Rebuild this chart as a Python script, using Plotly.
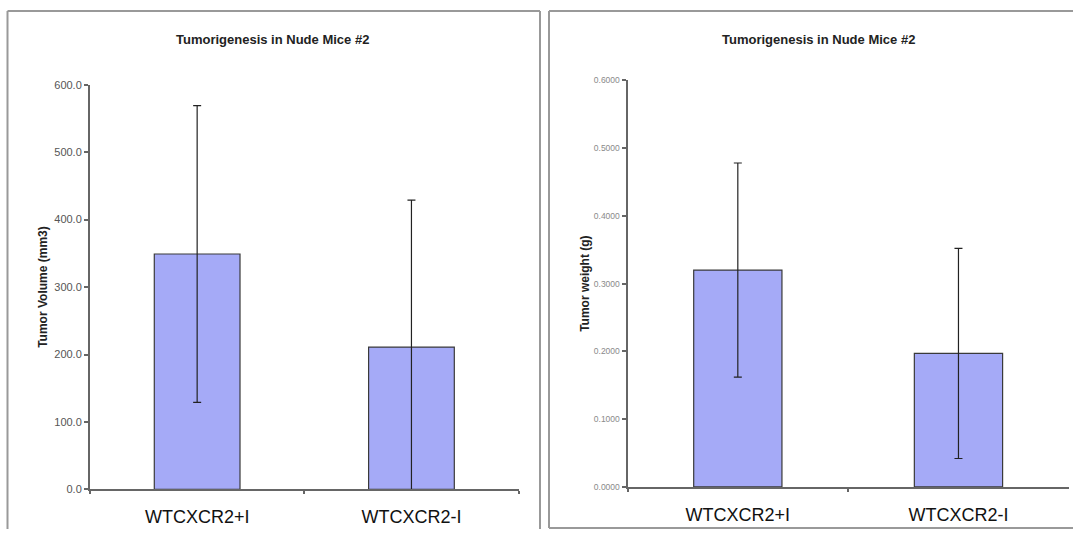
import plotly.graph_objects as go
from plotly.subplots import make_subplots

categories = ["WTCXCR2+I", "WTCXCR2-I"]
volume_mean = [349.0, 211.0]
volume_err = [220.0, 218.0]
weight_mean = [0.320, 0.197]
weight_err = [0.158, 0.155]
volume_ticks = [0, 100, 200, 300, 400, 500, 600]
weight_ticks = [0.0, 0.1, 0.2, 0.3, 0.4, 0.5, 0.6]
chart_title = "Tumorigenesis in Nude Mice #2"

W, H = 1073, 535
def px(x): return x / W
def py(y): return 1 - y / H

BAR = "#a5aaf7"
FONT = "Liberation Sans, Arial, sans-serif"

fig = make_subplots(rows=1, cols=2)

for col, vals, errs in ((1, volume_mean, volume_err), (2, weight_mean, weight_err)):
    fig.add_trace(go.Bar(x=categories, y=vals, width=0.4,
                         marker=dict(color=BAR, line=dict(color="#3a3a3a", width=1.2)),
                         error_y=dict(type="data", array=errs, color="#222222",
                                      thickness=1.2, width=4),
                         showlegend=False), row=1, col=col)

xcommon = dict(showline=True, linecolor="#666666", linewidth=2, ticks="outside",
               tickson="boundaries", ticklen=3, tickcolor="#666666", tickwidth=1.5,
               tickfont=dict(family=FONT, size=18, color="#111111"),
               showgrid=False, zeroline=False, ticklabelstandoff=10)
fig.update_xaxes(domain=[px(90), px(518.6)], **xcommon, row=1, col=1)
fig.update_xaxes(domain=[px(627.5), px(1068.8)], **xcommon, row=1, col=2)

ycommon = dict(showline=True, linecolor="#666666", linewidth=2, ticks="outside",
               ticklen=4, tickcolor="#666666", tickwidth=1.5, showgrid=False,
               zeroline=False)
fig.update_yaxes(domain=[py(494.5), py(80.5)], range=[0, 600], tickvals=volume_ticks,
                 ticktext=[f"{v:.1f}" for v in volume_ticks],
                 tickfont=dict(family=FONT, size=11, color="#555555"),
                 title=dict(text="<b>Tumor Volume (mm3)</b>", standoff=4,
                            font=dict(family=FONT, size=12, color="#222222")),
                 **ycommon, row=1, col=1)
fig.update_yaxes(domain=[py(492), py(76)], range=[0, 0.6], tickvals=weight_ticks,
                 ticktext=[f"{v:.4f}" for v in weight_ticks],
                 tickfont=dict(family=FONT, size=8.5, color="#8a8a8a"),
                 title=dict(text="<b>Tumor weight (g)</b>", standoff=2,
                            font=dict(family=FONT, size=12, color="#222222")),
                 **ycommon, row=1, col=2)

# chart frames
line = dict(type="line", xref="paper", yref="paper", line=dict(color="#999999", width=2),
            layer="below")
# left chart frame (bottom edge lies outside the picture)
fig.add_shape(x0=px(7.5), x1=px(7.5), y0=0, y1=py(5), **line)
fig.add_shape(x0=px(7.5), x1=px(540), y0=py(5), y1=py(5), **line)
fig.add_shape(x0=px(540), x1=px(540), y0=0, y1=py(5), **line)
# right chart frame (right edge lies outside the picture)
fig.add_shape(x0=px(549), x1=px(549), y0=py(534), y1=py(5), **line)
fig.add_shape(x0=px(549), x1=1, y0=py(5), y1=py(5), **line)
fig.add_shape(x0=px(549), x1=1, y0=py(534), y1=py(534), **line)

for xc in (272, 818):
    fig.add_annotation(text=f"<b>{chart_title}</b>", x=px(xc), y=py(34), xref="paper",
                       yref="paper", showarrow=False, xanchor="center", yanchor="middle",
                       font=dict(family=FONT, size=13, color="#222222"))

fig.update_layout(width=W, height=H, margin=dict(l=0, r=0, t=0, b=0),
                  paper_bgcolor="white", plot_bgcolor="white", bargap=0.6)

post = (
    "document.documentElement.style.cssText='margin:0;padding:0;overflow:hidden;height:535px;';"
    "document.body.style.cssText='margin:0;padding:0;overflow:hidden;height:535px;';"
    "var d=document.getElementById('{plot_id}');"
    "d.style.position='fixed';d.style.left='0px';d.style.top='0px';"
)
fig.write_html("out.html", config={"displayModeBar": False}, post_script=post)
